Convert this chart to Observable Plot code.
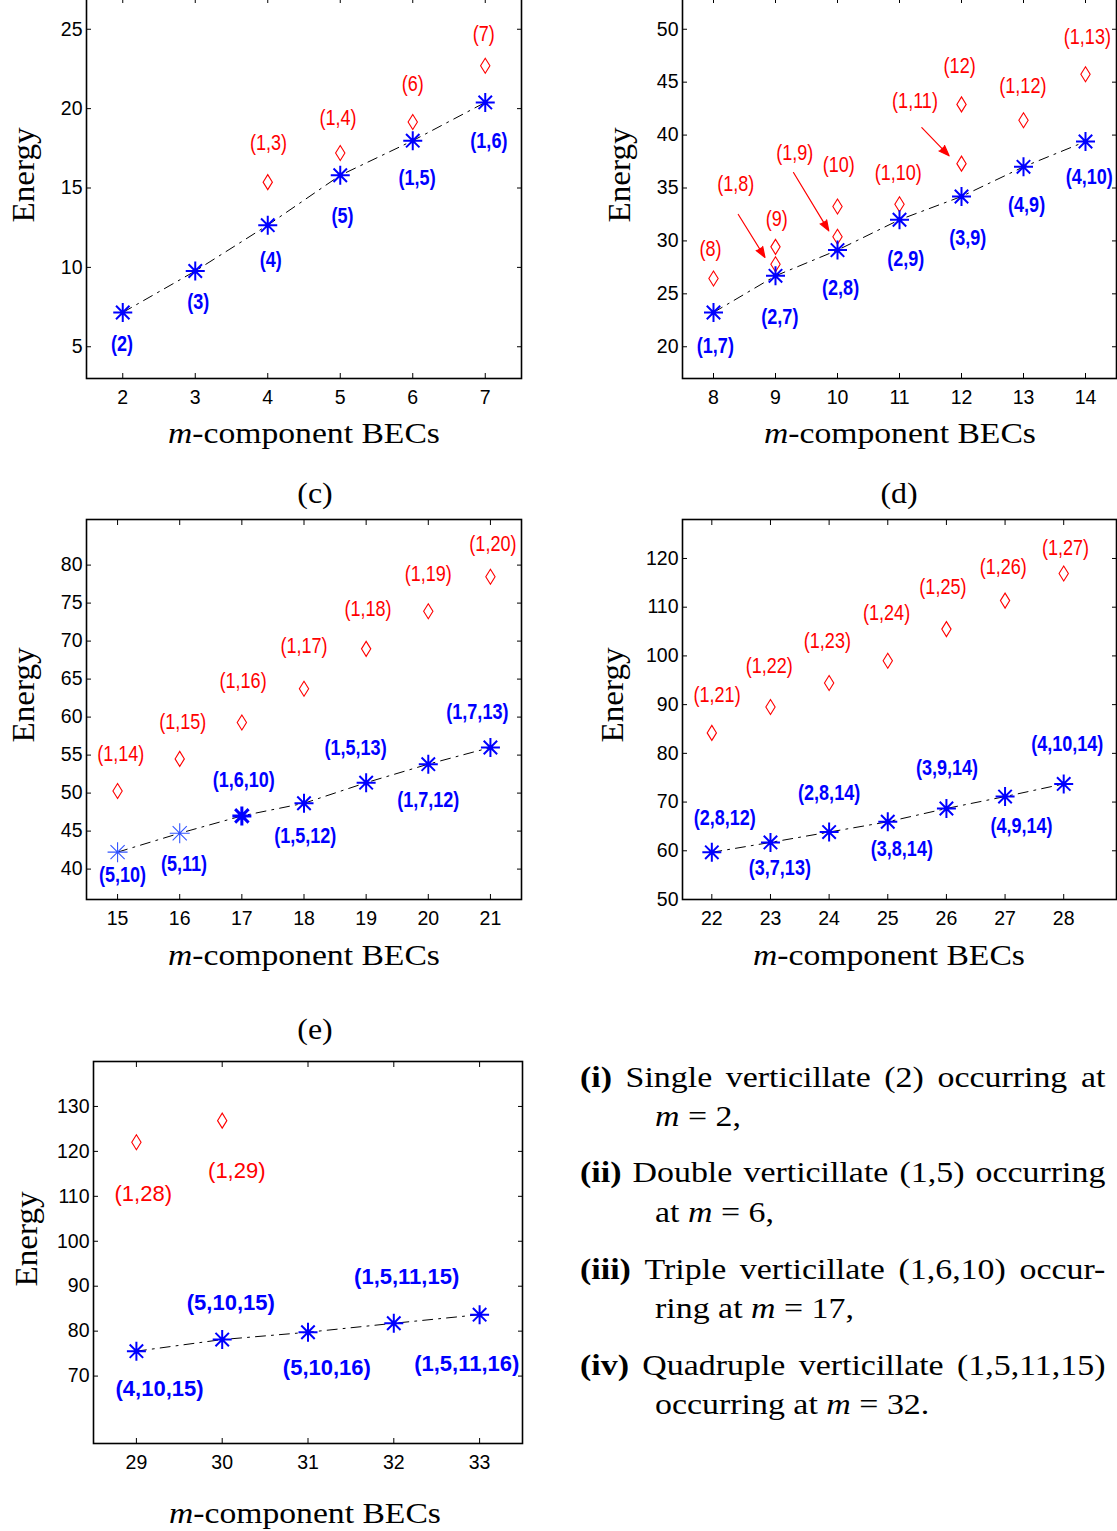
<!DOCTYPE html>
<html>
<head>
<meta charset="utf-8">
<script src="https://cdn.jsdelivr.net/npm/d3@7"></script>
<script src="https://cdn.jsdelivr.net/npm/@observablehq/plot@0.6"></script>
<style>
  html, body { margin: 0; padding: 0; background: #fff; }
  #fig { position: relative; width: 1117px; height: 1531px; overflow: hidden; background: #fff; }
  #fig svg { position: absolute; overflow: visible; }
  .abs { position: absolute; white-space: nowrap; color: #000; }
  .serif { font-family: "Liberation Serif", "DejaVu Serif", serif; }
  .xlab { font-size: 29px; line-height: 29px; transform: translate(-50%, -50%) scaleX(1.16); }
  .ylab { font-size: 31px; line-height: 31px; transform: translate(-50%, -50%) rotate(-90deg) scaleX(1.07); }
  .tag { font-size: 29px; line-height: 29px; transform: translate(-50%, -50%) scaleX(1.1); }
  .tl { font-size: 30px; line-height: 30px; transform-origin: 0 0; transform: scaleX(1.13); }
  .just { display: flex; justify-content: space-between; width: 465px; }
</style>
</head>
<body>
<div id="fig"></div>
<script>
// ---------------- DATA ----------------
// Panel (a)
const aM = [2, 3, 4, 5, 6, 7];
const aBlue = [7.16, 9.77, 12.66, 15.8, 17.98, 20.39];
const aBlueLabels = ["(2)", "(3)", "(4)", "(5)", "(1,5)", "(1,6)"];
const aBlueLabelX = [1.99, 3.04, 4.04, 5.03, 6.06, 7.05];
const aBlueLabelY = [5.17, 7.83, 10.45, 13.27, 15.64, 17.94];
const aRedM = [4, 5, 6, 7];
const aRed = [15.37, 17.2, 19.16, 22.7];
const aRedLabels = ["(1,3)", "(1,4)", "(6)", "(7)"];
const aRedLabelX = [4.01, 4.97, 6.0, 6.98];
const aRedLabelY = [17.84, 19.41, 21.54, 24.7];
const aXTicks = [2, 3, 4, 5, 6, 7];
const aYTicks = [5, 10, 15, 20, 25];

// Panel (b)
const bM = [8, 9, 10, 11, 12, 13, 14];
const bBlue = [23.24, 26.7, 29.13, 32.0, 34.2, 37.0, 39.39];
const bBlueLabels = ["(1,7)", "(2,7)", "(2,8)", "(2,9)", "(3,9)", "(4,9)", "(4,10)"];
const bBlueLabelX = [8.03, 9.07, 10.05, 11.1, 12.1, 13.05, 14.06];
const bBlueLabelY = [20.1, 22.83, 25.6, 28.28, 30.3, 33.4, 36.0];
const bRedM = [8, 9, 9, 10, 10, 11, 12, 12, 13, 14];
const bRed = [26.45, 29.44, 27.8, 33.25, 30.39, 33.47, 42.9, 37.3, 41.4, 45.75];
const bRedLabels = ["(8)", "(9)", "(1,8)", "(10)", "(1,9)", "(1,10)", "(12)", "(1,11)", "(1,12)", "(1,13)"];
const bRedLabelX = [7.95, 9.02, 8.36, 10.02, 9.31, 10.98, 11.97, 11.25, 12.99, 14.03];
const bRedLabelY = [29.2, 32.05, 35.4, 37.2, 38.35, 36.46, 46.5, 43.2, 44.65, 49.25];
const bArrowX1 = [8.40, 9.29, 11.36];
const bArrowY1 = [32.5, 36.46, 40.71];
const bArrowX2 = [8.83, 9.86, 11.80];
const bArrowY2 = [28.44, 30.95, 38.04];
const bXTicks = [8, 9, 10, 11, 12, 13, 14];
const bYTicks = [20, 25, 30, 35, 40, 45, 50];

// Panel (c)
const cM = [15, 16, 17, 18, 19, 20, 21];
const cBlue = [42.23, 44.72, 47.0, 48.66, 51.37, 53.81, 56.0];
const cBlueLabels = ["(5,10)", "(5,11)", "(1,6,10)", "(1,5,12)", "(1,5,13)", "(1,7,12)", "(1,7,13)"];
const cBlueLabelX = [15.08, 16.07, 17.03, 18.02, 18.83, 20.0, 20.79];
const cBlueLabelY = [39.17, 40.7, 51.7, 44.37, 55.96, 49.1, 60.68];
const cRedM = [15, 16, 17, 18, 19, 20, 21];
const cRed = [50.27, 54.5, 59.28, 63.74, 68.98, 73.92, 78.47];
const cRedLabels = ["(1,14)", "(1,15)", "(1,16)", "(1,17)", "(1,18)", "(1,19)", "(1,20)"];
const cRedLabelX = [15.05, 16.05, 17.02, 18.0, 19.03, 20.0, 21.04];
const cRedLabelY = [55.13, 59.37, 64.74, 69.42, 74.23, 78.9, 82.75];
const cXTicks = [15, 16, 17, 18, 19, 20, 21];
const cYTicks = [40, 45, 50, 55, 60, 65, 70, 75, 80];

// Panel (d)
const dM = [22, 23, 24, 25, 26, 27, 28];
const dBlue = [59.68, 61.72, 63.84, 65.95, 68.68, 71.13, 73.72];
const dBlueLabels = ["(2,8,12)", "(3,7,13)", "(2,8,14)", "(3,8,14)", "(3,9,14)", "(4,9,14)", "(4,10,14)"];
const dBlueLabelX = [22.22, 23.16, 24.0, 25.24, 26.01, 27.28, 28.06];
const dBlueLabelY = [66.7, 56.48, 71.95, 60.43, 77.06, 65.13, 81.83];
const dRedM = [22, 23, 24, 25, 26, 27, 28];
const dRed = [84.2, 89.5, 94.44, 99.0, 105.5, 111.35, 116.9];
const dRedLabels = ["(1,21)", "(1,22)", "(1,23)", "(1,24)", "(1,25)", "(1,26)", "(1,27)"];
const dRedLabelX = [22.09, 22.98, 23.97, 24.98, 25.94, 26.97, 28.03];
const dRedLabelY = [91.92, 97.92, 103.03, 108.83, 114.2, 118.3, 122.26];
const dXTicks = [22, 23, 24, 25, 26, 27, 28];
const dYTicks = [50, 60, 70, 80, 90, 100, 110, 120];

// Panel (e)
const eM = [29, 30, 31, 32, 33];
const eBlue = [75.54, 78.13, 79.76, 81.75, 83.67];
const eBlueLabels = ["(4,10,15)", "(5,10,15)", "(5,10,16)", "(1,5,11,15)", "(1,5,11,16)"];
const eBlueLabelX = [29.27, 30.1, 31.22, 32.15, 32.85];
const eBlueLabelY = [67.04, 86.19, 71.85, 91.95, 72.59];
const eRedM = [29, 30];
const eRed = [122.03, 126.84];
const eRedLabels = ["(1,28)", "(1,29)"];
const eRedLabelX = [29.08, 30.17];
const eRedLabelY = [110.58, 115.6];
const eXTicks = [29, 30, 31, 32, 33];
const eYTicks = [70, 80, 90, 100, 110, 120, 130];

// ---------------- SYMBOLS ----------------
const asterisk = {
  draw(ctx, size) {
    const r = Math.sqrt(size / Math.PI);
    const d = r * Math.SQRT1_2;
    ctx.moveTo(-r, 0); ctx.lineTo(r, 0);
    ctx.moveTo(0, -r); ctx.lineTo(0, r);
    ctx.moveTo(-d, -d); ctx.lineTo(d, d);
    ctx.moveTo(-d, d); ctx.lineTo(d, -d);
  }
};
const diamond = {
  draw(ctx, size) {
    const r = Math.sqrt(size / Math.PI);
    const w = r * 0.62;
    ctx.moveTo(0, -r); ctx.lineTo(w, 0); ctx.lineTo(0, r); ctx.lineTo(-w, 0); ctx.closePath();
  }
};

const fig = document.getElementById("fig");
const SANS = '"Liberation Sans", Arial, Helvetica, sans-serif';

function zip(xs, ys, extra) {
  return xs.map((x, i) => Object.assign({x, y: ys[i]}, extra ? {t: extra[i]} : {}));
}

function condense(svg, k) {
  svg.querySelectorAll("g[aria-label='text'] text").forEach((t) => {
    let tr = t.getAttribute("transform");
    if (!tr) {
      const x = t.getAttribute("x") || 0, y = t.getAttribute("y") || 0;
      t.removeAttribute("x"); t.removeAttribute("y");
      tr = `translate(${x},${y})`;
    }
    t.setAttribute("transform", tr + ` scale(${k},1)`);
  });
}

function panel(cfg) {
  const ml = 70, mr = 30, mt = 20, mb = 45;
  const W = cfg.fw + ml + mr, H = cfg.fh + mt + mb;
  const blue = zip(cfg.m, cfg.blue);
  const red = zip(cfg.redM, cfg.red);
  const blueLab = zip(cfg.blx, cfg.bly, cfg.bl);
  const redLab = zip(cfg.rlx, cfg.rly, cfg.rl);
  const starMarks = cfg.starMarks ? cfg.starMarks(blue) : [
    Plot.dot(blue, {x: "x", y: "y", symbol: asterisk, r: 9.5, stroke: "#0000ff", strokeWidth: 2, fill: "none"})
  ];
  const marks = [
    Plot.axisY(cfg.yTicks, {anchor: "left", tickSize: -5, tickPadding: 9, label: null, fontSize: 19.5, strokeWidth: 1}),
    Plot.axisY(cfg.yTicks, {anchor: "right", tickSize: -5, tickFormat: () => "", label: null, strokeWidth: 1}),
    Plot.axisX(cfg.xTicks, {anchor: "bottom", tickSize: -5, tickPadding: 17, label: null, fontSize: 19.5, strokeWidth: 1}),
    Plot.axisX(cfg.xTicks, {anchor: "top", tickSize: -5, tickFormat: () => "", label: null, strokeWidth: 1}),
    Plot.line(blue, {x: "x", y: "y", stroke: "#000", strokeWidth: 1, strokeDasharray: "10,6,2,6"}),
    Plot.dot(red, {x: "x", y: "y", symbol: diamond, r: 7.5, stroke: "#ff0000", strokeWidth: 1.1, fill: "none"}),
    ...starMarks,
    Plot.text(redLab, {x: "x", y: "y", text: "t", fill: "#ff0000", fontSize: 22, fontFamily: SANS}),
    Plot.text(blueLab, {x: "x", y: "y", text: "t", fill: "#0000ff", fontSize: 22, fontWeight: "bold", fontFamily: SANS}),
    ...(cfg.extra || []),
    Plot.frame({stroke: "#000", strokeWidth: 1.6})
  ];
  const svg = Plot.plot({
    width: W, height: H,
    marginLeft: ml, marginRight: mr, marginTop: mt, marginBottom: mb,
    x: {domain: cfg.xDomain},
    y: {domain: cfg.yDomain},
    style: {fontFamily: SANS, fontSize: "19.5px", color: "#000", background: "transparent", overflow: "visible"},
    marks
  });
  if (cfg.narrow) condense(svg, 0.82);
  svg.style.left = (cfg.left - ml) + "px";
  svg.style.top = (cfg.top - mt) + "px";
  fig.appendChild(svg);
}

// Panel (a)
panel({left: 86, top: -3, fw: 435, fh: 381, xDomain: [1.5, 7.5], yDomain: [3, 27],
  xTicks: aXTicks, yTicks: aYTicks, m: aM, blue: aBlue, redM: aRedM, red: aRed,
  bl: aBlueLabels, blx: aBlueLabelX, bly: aBlueLabelY, rl: aRedLabels, rlx: aRedLabelX, rly: aRedLabelY,
  narrow: true});

// Panel (b)
const bArrows = bArrowX1.map((x1, i) => ({x1, y1: bArrowY1[i], x2: bArrowX2[i], y2: bArrowY2[i]}));
panel({left: 682, top: -3, fw: 434, fh: 381, xDomain: [7.5, 14.5], yDomain: [17, 53],
  xTicks: bXTicks, yTicks: bYTicks, m: bM, blue: bBlue, redM: bRedM, red: bRed,
  bl: bBlueLabels, blx: bBlueLabelX, bly: bBlueLabelY, rl: bRedLabels, rlx: bRedLabelX, rly: bRedLabelY,
  narrow: true,
  extra: [Plot.arrow(bArrows, {x1: "x1", y1: "y1", x2: "x2", y2: "y2", stroke: "#ff0000", fill: "#ff0000",
    strokeWidth: 1.2, headLength: 14, headAngle: 40})]});

// Panel (c)
panel({left: 86, top: 519, fw: 435, fh: 380, xDomain: [14.5, 21.5], yDomain: [36, 86],
  xTicks: cXTicks, yTicks: cYTicks, m: cM, blue: cBlue, redM: cRedM, red: cRed,
  bl: cBlueLabels, blx: cBlueLabelX, bly: cBlueLabelY, rl: cRedLabels, rlx: cRedLabelX, rly: cRedLabelY,
  narrow: true,
  starMarks: (blue) => [
    Plot.dot(blue.filter(d => d.x <= 16), {x: "x", y: "y", symbol: asterisk, r: 10, stroke: "#3355ff", strokeWidth: 1.1, fill: "none"}),
    Plot.dot(blue.filter(d => d.x === 17), {x: "x", y: "y", symbol: asterisk, r: 9.5, stroke: "#0000ff", strokeWidth: 3, fill: "none"}),
    Plot.dot(blue.filter(d => d.x > 17), {x: "x", y: "y", symbol: asterisk, r: 9.5, stroke: "#0000ff", strokeWidth: 2, fill: "none"})
  ]});

// Panel (d)
panel({left: 682, top: 519, fw: 434, fh: 380, xDomain: [21.5, 28.9], yDomain: [50, 128],
  xTicks: dXTicks, yTicks: dYTicks, m: dM, blue: dBlue, redM: dRedM, red: dRed,
  bl: dBlueLabels, blx: dBlueLabelX, bly: dBlueLabelY, rl: dRedLabels, rlx: dRedLabelX, rly: dRedLabelY,
  narrow: true});

// Panel (e)
panel({left: 93, top: 1061, fw: 429, fh: 382, xDomain: [28.5, 33.5], yDomain: [55, 140],
  xTicks: eXTicks, yTicks: eYTicks, m: eM, blue: eBlue, redM: eRedM, red: eRed,
  bl: eBlueLabels, blx: eBlueLabelX, bly: eBlueLabelY, rl: eRedLabels, rlx: eRedLabelX, rly: eRedLabelY,
  narrow: false});

// ---------------- HTML TEXT ----------------
function addDiv(cls, html, x, y) {
  const d = document.createElement("div");
  d.className = "abs serif " + cls;
  d.innerHTML = html;
  d.style.left = x + "px";
  d.style.top = y + "px";
  fig.appendChild(d);
  return d;
}
const xLabel = "<i>m</i>-component BECs";
[[304, 433], [900, 433], [304, 955], [889, 955], [305, 1513]].forEach(([x, y]) => addDiv("xlab", xLabel, x, y));
[[23, 175], [619, 175], [23, 695], [612, 695], [26, 1239]].forEach(([x, y]) => addDiv("ylab", "Energy", x, y));
addDiv("tag", "(c)", 315, 493);
addDiv("tag", "(d)", 899, 493);
addDiv("tag", "(e)", 315, 1029);

const justLines = [
  ["<b>(i)</b>", "Single", "verticillate", "(2)", "occurring", "at"],
  ["<b>(ii)</b>", "Double", "verticillate", "(1,5)", "occurring"],
  ["<b>(iii)</b>", "Triple", "verticillate", "(1,6,10)", "occur-"],
  ["<b>(iv)</b>", "Quadruple", "verticillate", "(1,5,11,15)"]
];
const contLines = [
  "<i>m</i> = 2,",
  "at <i>m</i> = 6,",
  "ring at <i>m</i> = 17,",
  "occurring at <i>m</i> = 32."
];
const baselines = [1087, 1126, 1182, 1222, 1279, 1318, 1375, 1414];
justLines.forEach((words, i) => {
  addDiv("tl just", words.map(w => "<span>" + w + "</span>").join(""), 580, baselines[2 * i] - 25.1);
  addDiv("tl", contLines[i], 655, baselines[2 * i + 1] - 25.1);
});
</script>
</body>
</html>
